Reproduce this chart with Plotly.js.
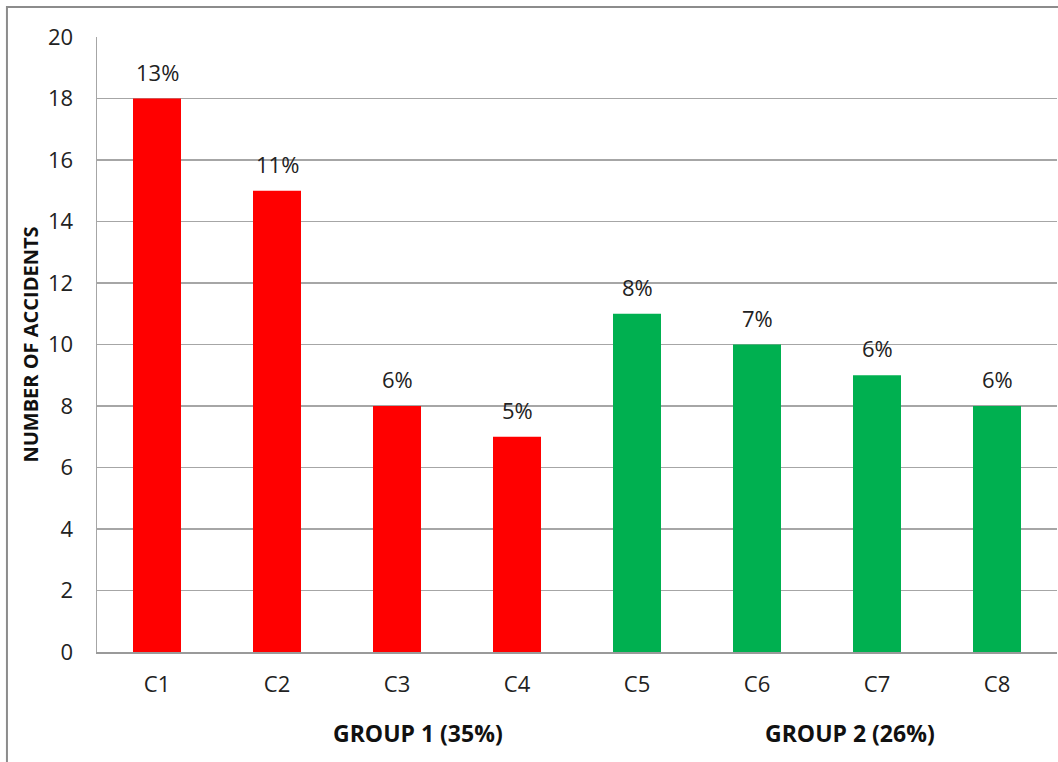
<!DOCTYPE html>
<html>
<head>
<meta charset="utf-8">
<script src="https://cdn.plot.ly/plotly-3.0.1.min.js"></script>
<style>
  html, body { margin: 0; padding: 0; background: #fff; }
  #chart { width: 1058px; height: 762px; }
</style>
</head>
<body>
<div id="chart"></div>
<script>
// Accident counts per category, split in two groups
const categories = ["C1", "C2", "C3", "C4", "C5", "C6", "C7", "C8"];
const accidents = [18, 15, 8, 7, 11, 10, 9, 8];
const shareLabels = ["13%", "11%", "6%", "5%", "8%", "7%", "6%", "6%"];
const groupOf = [1, 1, 1, 1, 2, 2, 2, 2];
const groupNames = ["GROUP 1 (35%)", "GROUP 2 (26%)"];
const yTicks = [0, 2, 4, 6, 8, 10, 12, 14, 16, 18, 20];

const groupColors = { 1: "#ff0000", 2: "#00b050" };
const FONT = "'Open Sans', 'Noto Sans', sans-serif";

const trace = {
  type: "bar",
  x: categories,
  y: accidents,
  width: 0.4,
  marker: { color: groupOf.map(g => groupColors[g]), line: { width: 0 } },
  hoverinfo: "x+y",
  cliponaxis: false
};

// Percentage labels sitting above each bar
const shareAnnotations = categories.map((c, i) => ({
  x: c, y: accidents[i], xref: "x", yref: "y",
  text: shareLabels[i], showarrow: false,
  yanchor: "bottom", yshift: 10,
  font: { family: FONT, size: 22, color: "#222" }
}));

// Group captions under the category axis
const groupAnnotations = [
  { x: (418 - 97) / 960, text: groupNames[0] },
  { x: (850 - 97) / 960, text: groupNames[1] }
].map(a => ({
  x: a.x, y: -0.131, xref: "paper", yref: "paper",
  text: "<b>" + a.text + "</b>", showarrow: false,
  xanchor: "center", yanchor: "middle",
  font: { family: FONT, size: 23, color: "#111" }
}));

const layout = {
  width: 1058, height: 762,
  margin: { l: 97, r: 1, t: 37, b: 110 },
  paper_bgcolor: "#fff",
  plot_bgcolor: "#fff",
  showlegend: false,
  bargap: 0.6,
  font: { family: FONT, size: 22, color: "#222" },
  xaxis: {
    type: "category",
    showgrid: false,
    showline: true, linecolor: "#9a9a9a", linewidth: 1.5,
    ticks: "", ticklabelstandoff: 12,
    tickfont: { family: FONT, size: 22, color: "#222" },
    zeroline: false,
    fixedrange: true
  },
  yaxis: {
    range: [0, 20],
    tickvals: yTicks,
    showgrid: true, gridcolor: "#a6a6a6", gridwidth: 1.5,
    showline: true, linecolor: "#a6a6a6", linewidth: 1.5,
    zeroline: false,
    ticks: "", ticklabelstandoff: 18,
    tickfont: { family: FONT, size: 22, color: "#222" },
    title: {
      text: "<b>NUMBER OF ACCIDENTS</b>",
      font: { family: FONT, size: 20, color: "#111" },
      standoff: 4
    },
    fixedrange: true
  },
  annotations: shareAnnotations.concat(groupAnnotations),
  shapes: [
    // outer chart frame (left and top edges)
    {
      type: "path", xref: "paper", yref: "paper",
      path: "M -0.0938 -0.2 L -0.0938 1.0488 L 1.01 1.0488",
      line: { color: "#8c8c8c", width: 2 }
    }
  ]
};

Plotly.newPlot("chart", [trace], layout, { displayModeBar: false, staticPlot: true });
</script>
</body>
</html>
